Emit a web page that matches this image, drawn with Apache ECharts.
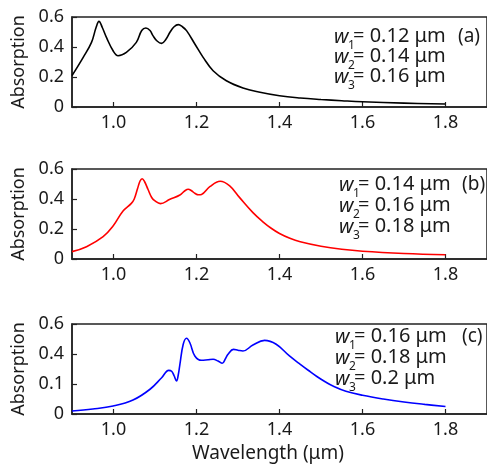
<!DOCTYPE html>
<html><head><meta charset="utf-8">
<script src="https://cdn.jsdelivr.net/npm/echarts@6/dist/echarts.min.js"></script>
<style>html,body{margin:0;padding:0;background:#fff}#c{width:487px;height:467px}</style>
</head><body><div id="c"></div>
<script>
// Data (wavelength in µm, absorption)
const lambdaA = [0.9,0.927,0.947,0.958,0.965,0.973,0.983,0.999,1.011,1.031,1.055,1.068,1.078,1.088,1.095,1.105,1.116,1.126,1.136,1.146,1.156,1.166,1.176,1.196,1.216,1.24,1.272,1.312,1.35,1.4,1.45,1.5,1.55,1.6,1.7,1.8];
const absA    = [0.209,0.331,0.431,0.53,0.571,0.53,0.464,0.375,0.342,0.364,0.431,0.51,0.527,0.51,0.476,0.44,0.424,0.45,0.498,0.535,0.549,0.535,0.509,0.42,0.331,0.242,0.175,0.127,0.1,0.075,0.06,0.05,0.042,0.035,0.026,0.02];

const lambdaB = [0.9,0.935,0.975,0.999,1.023,1.043,1.05,1.058,1.064,1.069,1.075,1.083,1.092,1.1,1.113,1.136,1.16,1.172,1.18,1.188,1.196,1.205,1.212,1.232,1.257,1.28,1.304,1.336,1.36,1.38,1.4,1.425,1.45,1.5,1.55,1.6,1.7,1.8];
const absB    = [0.049,0.082,0.149,0.22,0.32,0.371,0.40,0.47,0.52,0.535,0.515,0.465,0.41,0.387,0.369,0.398,0.427,0.455,0.465,0.455,0.438,0.428,0.43,0.482,0.518,0.487,0.409,0.309,0.248,0.205,0.17,0.138,0.115,0.085,0.065,0.052,0.037,0.028];

const lambdaC = [0.9,0.95,0.999,1.047,1.088,1.116,1.133,1.14,1.146,1.152,1.156,1.16,1.168,1.176,1.184,1.196,1.212,1.228,1.24,1.252,1.262,1.27,1.276,1.289,1.3,1.312,1.336,1.364,1.392,1.424,1.448,1.47,1.49,1.51,1.53,1.56,1.6,1.65,1.7,1.75,1.8];
const absC    = [0.02,0.033,0.053,0.093,0.165,0.242,0.291,0.285,0.255,0.22,0.26,0.331,0.465,0.505,0.475,0.387,0.358,0.362,0.365,0.353,0.338,0.37,0.398,0.431,0.425,0.42,0.46,0.491,0.465,0.387,0.336,0.29,0.25,0.215,0.185,0.152,0.125,0.1,0.08,0.064,0.05];

const xTicks = [1.0,1.2,1.4,1.6,1.8];
const yTicks = [0,0.2,0.4,0.6];
const yLabelsAB = ['0','0.2','0.4','0.6'];
const yLabelsC  = ['0','0.1','0.4','0.6'];

const widthsA = ['0.12','0.14','0.16'];
const widthsB = ['0.14','0.16','0.18'];
const widthsC = ['0.16','0.18','0.2'];
const panelTags = ['(a)','(b)','(c)'];
const xAxisTitle = 'Wavelength (μm)';
const yAxisTitle = 'Absorption';

const FONT = '"Noto Sans", sans-serif';
const TXT = '#1a1a1a';
const tops = [17, 169, 324];
const colors = ['#000000', '#ff0000', '#0000ff'];
const series = [[lambdaA, absA], [lambdaB, absB], [lambdaC, absC]];
const yLabelSets = [yLabelsAB, yLabelsAB, yLabelsC];

const chart = echarts.init(document.getElementById('c'));
const grids = [], xAxes = [], yAxes = [], ser = [];
for (let i = 0; i < 3; i++) {
  grids.push({left: 72, top: tops[i], width: 416, height: 90, show: true, borderColor: '#222', borderWidth: 1.5, backgroundColor: 'transparent'});
  xAxes.push({
    type: 'value', gridIndex: i, min: 0.9, max: 1.9,
    axisLine: {show: true, onZero: false, lineStyle: {color: '#222', width: 1.5}},
    axisTick: {show: true, inside: true, length: 5, customValues: xTicks, lineStyle: {color: '#222', width: 1.2}},
    axisLabel: {show: true, customValues: xTicks, formatter: v => v.toFixed(1), fontFamily: FONT, fontSize: 18, color: TXT, margin: 7},
    splitLine: {show: false}
  });
  const labs = yLabelSets[i];
  yAxes.push({
    type: 'value', gridIndex: i, min: 0, max: 0.6, interval: 0.2,
    name: yAxisTitle, nameLocation: 'middle', nameGap: 35, nameRotate: 90,
    nameTextStyle: {fontFamily: FONT, fontSize: 18, color: TXT},
    axisLine: {show: true, lineStyle: {color: '#222', width: 1.5}},
    axisTick: {show: true, inside: true, length: 5, lineStyle: {color: '#222', width: 1.2}},
    axisLabel: {fontFamily: FONT, fontSize: 18, color: TXT, margin: 8,
      formatter: v => { const k = yTicks.findIndex(t => Math.abs(t - v) < 1e-6); return k >= 0 ? labs[k] : ''; }},
    splitLine: {show: false}
  });
  const d = series[i][0].map((x, j) => [x, series[i][1][j]]);
  ser.push({type: 'line', xAxisIndex: i, yAxisIndex: i, data: d, smooth: 0.4, showSymbol: false,
    lineStyle: {color: colors[i], width: 1.6}, silent: true});
}

const graphics = [];
const legendSets = [widthsA, widthsB, widthsC];
const lineY = [[38, 58, 78], [186, 207, 228], [338, 359, 380]];
const lineX = [334, 339, 335];
for (let i = 0; i < 3; i++) {
  for (let k = 0; k < 3; k++) {
    const x0 = lineX[i], y0 = lineY[i][k];
    graphics.push({type: 'text', left: x0, top: y0 - 11, style: {text: 'w', font: 'italic 20px ' + FONT, fill: TXT}});
    graphics.push({type: 'text', left: x0 + 14, top: y0 + 2, style: {text: String(k + 1), font: '12px ' + FONT, fill: TXT}});
    graphics.push({type: 'text', left: x0 + 19, top: y0 - 12, style: {text: '= ' + legendSets[i][k] + ' μm', font: '20px ' + FONT, fill: TXT}});
  }
  graphics.push({type: 'text', left: 458 + (i ? 4 : 0), top: lineY[i][0] - 11, style: {text: panelTags[i], font: '19px ' + FONT, fill: TXT}});
}
graphics.push({type: 'text', left: 192, top: 444, style: {text: xAxisTitle, font: '19px ' + FONT, fill: TXT}});

chart.setOption({
  animation: false,
  grid: grids, xAxis: xAxes, yAxis: yAxes, series: ser, graphic: graphics
});
</script></body></html>
